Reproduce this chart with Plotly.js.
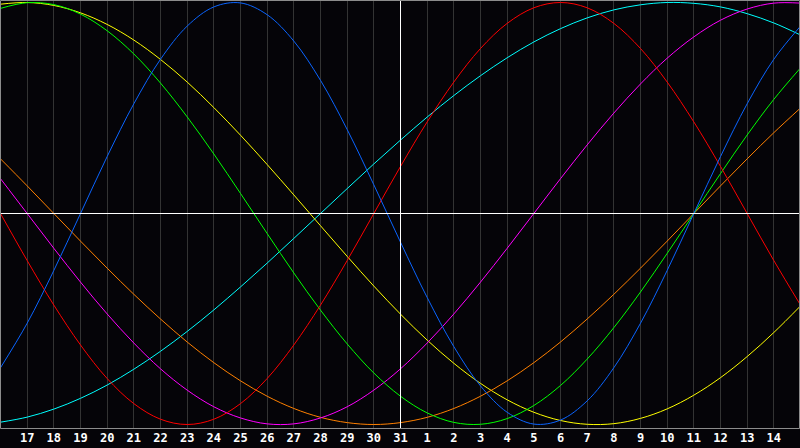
<!DOCTYPE html>
<html>
<head>
<meta charset="utf-8">
<script src="https://cdn.plot.ly/plotly-3.0.1.min.js"></script>
<style>
  html, body { margin: 0; padding: 0; background: #050408; }
  #chart { width: 800px; height: 448px; }
</style>
</head>
<body>
<div id="chart"></div>
<script>
// Day labels (one per day column), 16th of one month to the 15th of the next
const dayLabels = ["16","17","18","19","20","21","22","23","24","25","26","27","28","29","30","31",
                   "1","2","3","4","5","6","7","8","9","10","11","12","13","14","15"];
// Series values, one per day (range -1 .. 1)
const redValues = [0, -0.223, -0.434, -0.623, -0.782, -0.901, -0.975, -1.000, -0.975, -0.901, -0.782, -0.623, -0.434, -0.223, 0,
                   0.223, 0.434, 0.623, 0.782, 0.901, 0.975, 1.000, 0.975, 0.901, 0.782, 0.623, 0.434, 0.223, 0, -0.223, -0.434];
const blueValues = [-0.731, -0.520, -0.270, 0, 0.270, 0.520, 0.731, 0.888, 0.979, 0.998, 0.942, 0.817, 0.631, 0.398, 0.136,
                    -0.136, -0.398, -0.631, -0.817, -0.942, -0.998, -0.979, -0.888, -0.731, -0.520, -0.270, 0, 0.270, 0.520, 0.731, 0.888];
const greenValues = [0.972, 0.999, 0.990, 0.945, 0.866, 0.756, 0.618, 0.458, 0.282, 0.095, -0.095, -0.282, -0.458, -0.618, -0.756,
                     -0.866, -0.945, -0.990, -0.999, -0.972, -0.910, -0.815, -0.690, -0.541, -0.372, -0.189, 0, 0.189, 0.372, 0.541, 0.690];
const orangeValues = [0.259, 0.131, 0, -0.131, -0.259, -0.383, -0.500, -0.609, -0.707, -0.793, -0.866, -0.924, -0.966, -0.991, -1.000,
                      -0.991, -0.966, -0.924, -0.866, -0.793, -0.707, -0.609, -0.500, -0.383, -0.259, -0.131, 0, 0.131, 0.259, 0.383, 0.500];
const magentaValues = [0.165, 0, -0.165, -0.325, -0.476, -0.614, -0.736, -0.837, -0.916, -0.969, -0.997, -0.997, -0.969, -0.916, -0.837,
                       -0.736, -0.614, -0.476, -0.325, -0.165, 0, 0.165, 0.325, 0.476, 0.614, 0.736, 0.837, 0.916, 0.969, 0.997, 0.997];
const yellowValues = [0.992, 1.000, 0.986, 0.951, 0.896, 0.822, 0.730, 0.623, 0.502, 0.371, 0.232, 0.088, -0.058, -0.203, -0.344,
                      -0.477, -0.600, -0.710, -0.805, -0.883, -0.942, -0.981, -0.999, -0.996, -0.971, -0.926, -0.861, -0.778, -0.678, -0.564, -0.438];
const cyanValues = [-0.989, -0.965, -0.927, -0.876, -0.813, -0.738, -0.653, -0.559, -0.457, -0.348, -0.235, -0.118, 0, 0.118, 0.235,
                    0.348, 0.457, 0.559, 0.653, 0.738, 0.813, 0.876, 0.927, 0.965, 0.989, 1.000, 0.996, 0.979, 0.947, 0.903, 0.846];

const seriesList = [
  {name: "cyan", values: cyanValues, color: "#00ffff"},
  {name: "yellow", values: yellowValues, color: "#ffff00"},
  {name: "orange", values: orangeValues, color: "#ff8000"},
  {name: "magenta", values: magentaValues, color: "#ff00ff"},
  {name: "green", values: greenValues, color: "#00ff00"},
  {name: "red", values: redValues, color: "#ff0000"},
  {name: "blue", values: blueValues, color: "#0a64ff"}
];

const xIdx = dayLabels.map((_, i) => i);
const traces = seriesList.map(s => ({
  type: "scatter",
  mode: "lines",
  name: s.name,
  x: xIdx,
  y: s.values,
  line: {color: s.color, width: 1, shape: "spline", smoothing: 1},
  hoverinfo: "skip"
}));

const tickVals = xIdx.slice(1, xIdx.length - 1);
const tickText = dayLabels.slice(1, dayLabels.length - 1);

const layout = {
  width: 800,
  height: 448,
  margin: {l: 0, r: 0, t: 0, b: 19, pad: 0},
  paper_bgcolor: "#050408",
  plot_bgcolor: "#050408",
  showlegend: false,
  xaxis: {
    range: [-0.01875, 29.98125],
    tickvals: tickVals,
    ticktext: tickText,
    showgrid: true,
    gridcolor: "#333333",
    gridwidth: 1,
    zeroline: false,
    showline: false,
    ticks: "",
    tickfont: {family: "DejaVu Sans Mono, monospace", size: 12, color: "#ffffff", weight: "bold"},
    fixedrange: true
  },
  yaxis: {
    range: [-1.0213, 1.0118],
    showgrid: false,
    zeroline: false,
    showticklabels: false,
    ticks: "",
    fixedrange: true
  },
  shapes: [
    {type: "line", layer: "above", xref: "paper", yref: "y", x0: 0, x1: 1, y0: 0, y1: 0,
     line: {color: "#ffffff", width: 1}},
    {type: "line", layer: "above", xref: "x", yref: "paper", x0: 15, x1: 15, y0: 0, y1: 1,
     line: {color: "#ffffff", width: 1}},
    {type: "rect", layer: "above", xref: "paper", yref: "paper",
     x0: 0.5 / 800, x1: 1 - 0.5 / 800, y0: 0.5 / 429, y1: 1 - 0.5 / 429,
     line: {color: "#8c8c8c", width: 1}}
  ],
  hovermode: false
};

Plotly.newPlot("chart", traces, layout, {staticPlot: true, displayModeBar: false});
</script>
</body>
</html>
